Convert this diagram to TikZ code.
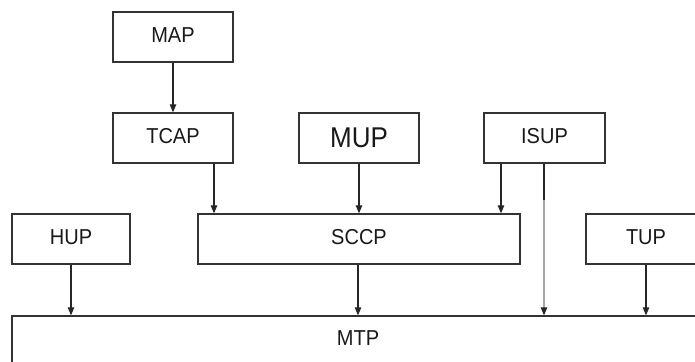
\documentclass[tikz,border=0pt]{standalone}
\usepackage{graphicx}
\usepackage{fontspec}
\setmainfont{Liberation Sans}
\usetikzlibrary{arrows.meta}
% slightly tall lettering used in the layer boxes
\newcommand{\tallcaps}[2][1.08]{\scalebox{1}[#1]{#2}}
\begin{document}
\begin{tikzpicture}[x=1pt,y=-1pt,
  layer/.style={draw=black!80, line width=1.3pt, fill=white, minimum height=50pt,
    inner sep=0pt, font=\fontsize{20}{20}\selectfont, text=black!90,
    text height=15.5pt, text depth=4pt},
  bigtext/.style={font=\fontsize{26}{26}\selectfont, text height=20.5pt, text depth=2pt},
  link/.style={draw=black!85, line width=1.1pt, -{Triangle[length=8pt,width=6.5pt]}},
  faint/.style={draw=black!35, line width=1.1pt, -{Triangle[length=8pt,width=6.5pt,color=black!85]}}]
\useasboundingbox (0,0) rectangle (695,361);
\begin{scope}
\clip (0,0) rectangle (695,361);
% upper user parts
\node[layer, minimum width=120pt] (map)  at (173,37)  {\tallcaps{MAP}};
\node[layer, minimum width=120pt] (tcap) at (173,138) {\tallcaps{TCAP}};
\node[layer, bigtext, minimum width=120pt] (mup) at (359,138) {\tallcaps[1.1]{MUP}};
\node[layer, minimum width=121pt] (isup) at (544.5,138) {\tallcaps{ISUP}};
% middle row
\node[layer, minimum width=118pt] (hup)  at (71,239)  {\tallcaps{HUP}};
\node[layer, minimum width=322pt] (sccp) at (359,239) {\tallcaps{SCCP}};
\node[layer, minimum width=120pt] (tup)  at (646,239) {\tallcaps{TUP}};
% transfer part
\node[layer, minimum width=692pt, minimum height=48pt] (mtp) at (358,340) {\tallcaps{MTP}};
% connectors
\draw[link] (map) -- (tcap);
\draw[link] (tcap.south -| 214,0) -- (sccp.north -| 214,0);
\draw[link] (mup) -- (sccp.north -| mup);
\draw[link] (isup.south -| 501,0) -- (sccp.north -| 501,0);
\coordinate (isupmid) at (544,200);
\draw[draw=black!85, line width=1.1pt] (isup.south -| isupmid) -- (isupmid);
\draw[faint] (isupmid) -- (mtp.north -| isupmid);
\draw[link] (hup) -- (mtp.north -| hup);
\draw[link] (sccp.south -| 358,0) -- (mtp.north -| 358,0);
\draw[link] (tup) -- (mtp.north -| tup);
\end{scope}
\end{tikzpicture}
\end{document}
